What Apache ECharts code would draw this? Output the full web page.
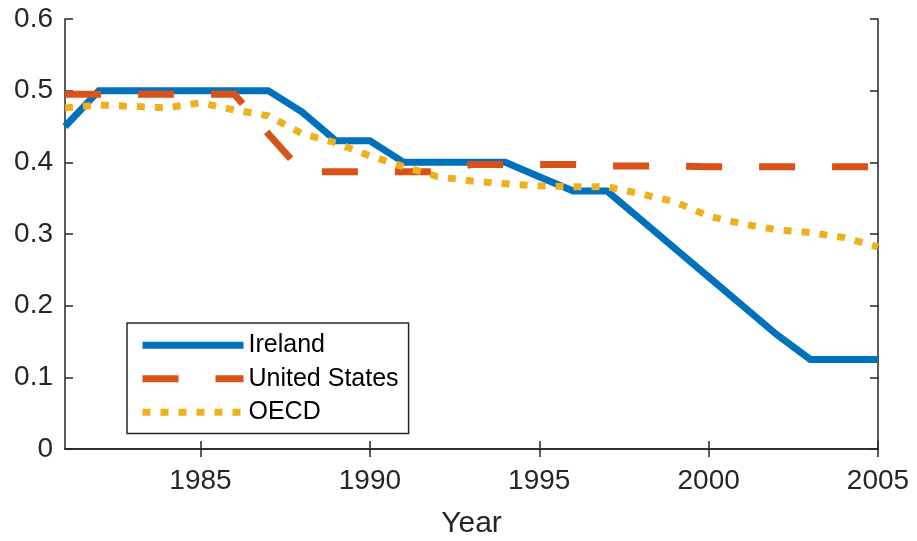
<!DOCTYPE html>
<html>
<head>
<meta charset="utf-8">
<script src="https://cdn.jsdelivr.net/npm/echarts@6/dist/echarts.min.js"></script>
<style>html,body{margin:0;padding:0;background:#fff;}#c{width:917px;height:541px;}</style>
</head>
<body>
<div id="c"></div>
<script>
var years = [1981,1982,1983,1984,1985,1986,1987,1988,1989,1990,1991,1992,1993,1994,1995,1996,1997,1998,1999,2000,2001,2002,2003,2004,2005];
var ireland = [0.45,0.50,0.50,0.50,0.50,0.50,0.50,0.47,0.43,0.43,0.40,0.40,0.40,0.40,0.38,0.36,0.36,0.32,0.28,0.24,0.20,0.16,0.125,0.125,0.125];
var unitedStates = [0.495,0.495,0.495,0.495,0.495,0.495,0.44,0.387,0.387,0.387,0.387,0.387,0.397,0.397,0.397,0.397,0.395,0.395,0.395,0.394,0.394,0.394,0.394,0.394,0.394];
var oecd = [0.476,0.480,0.478,0.476,0.483,0.473,0.465,0.440,0.427,0.409,0.394,0.380,0.374,0.370,0.367,0.366,0.366,0.356,0.345,0.325,0.314,0.306,0.302,0.295,0.282];
var xTicks = [1985,1990,1995,2000,2005];
var seriesNames = ['Ireland','United States','OECD'];

function pairs(vals){ return years.map(function(y,i){ return [y, vals[i]]; }); }

var axisColor = '#262626';
var font = 'Liberation Sans, Arial, Helvetica, sans-serif';
var chart = echarts.init(document.getElementById('c'));
chart.setOption({
  animation: false,
  backgroundColor: '#fff',
  grid: {left: 65, right: 39, top: 19, bottom: 92, containLabel: false, outerBoundsMode: 'none'},
  legend: {
    orient: 'vertical', left: 127, top: 323,
    itemWidth: 101, itemHeight: 14, itemGap: 3,
    padding: [7, 10, 6, 12],
    borderColor: axisColor, borderWidth: 1.5, backgroundColor: '#fff',
    itemStyle: {opacity: 0},
    lineStyle: {width: 7, cap: 'butt'},
    textStyle: {fontFamily: font, fontSize: 25, color: '#000', lineHeight: 30.5},
    data: seriesNames
  },
  xAxis: [{
    type: 'value', min: 1981, max: 2005, position: 'bottom',
    name: 'Year', nameLocation: 'middle', nameGap: 60,
    nameTextStyle: {fontFamily: font, fontSize: 30, color: axisColor},
    axisLine: {show: true, lineStyle: {color: axisColor, width: 1.5}},
    axisTick: {show: true, inside: true, length: 8, customValues: xTicks, lineStyle: {color: axisColor, width: 1.5}},
    axisLabel: {show: true, customValues: xTicks, margin: 18, fontFamily: font, fontSize: 28, color: axisColor,
      formatter: function(v){ return String(v); }},
    splitLine: {show: false}
  }, {
    type: 'value', min: 1981, max: 2005, position: 'top',
    axisLine: {show: true, lineStyle: {color: axisColor, width: 1.5}},
    axisTick: {show: true, inside: true, length: 8, customValues: xTicks, lineStyle: {color: axisColor, width: 1.5}},
    axisLabel: {show: false},
    splitLine: {show: false}
  }],
  yAxis: [{
    type: 'value', min: 0, max: 0.6, interval: 0.1, position: 'left',
    axisLine: {show: true, lineStyle: {color: axisColor, width: 1.5}},
    axisTick: {show: true, inside: true, length: 8, lineStyle: {color: axisColor, width: 1.5}},
    axisLabel: {show: true, margin: 12, fontFamily: font, fontSize: 28, color: axisColor,
      formatter: function(v){ return String(Math.round(v*10)/10); }},
    splitLine: {show: false}
  }, {
    type: 'value', min: 0, max: 0.6, interval: 0.1, position: 'right',
    axisLine: {show: true, lineStyle: {color: axisColor, width: 1.5}},
    axisTick: {show: true, inside: true, length: 8, lineStyle: {color: axisColor, width: 1.5}},
    axisLabel: {show: false},
    splitLine: {show: false}
  }],
  series: [{
    name: seriesNames[0], type: 'line', data: pairs(ireland), symbol: 'none',
    color: '#0072BD',
    lineStyle: {color: '#0072BD', width: 7, type: 'solid', cap: 'butt', join: 'miter'},
    z: 3
  }, {
    name: seriesNames[1], type: 'line', data: pairs(unitedStates), symbol: 'none',
    color: '#D95319',
    lineStyle: {color: '#D95319', width: 7, type: [36, 37], cap: 'butt', join: 'miter'},
    z: 4
  }, {
    name: seriesNames[2], type: 'line', data: pairs(oecd), symbol: 'none',
    color: '#EDB120',
    lineStyle: {color: '#EDB120', width: 7, type: [8, 10], cap: 'butt', join: 'miter'},
    z: 5
  }]
});
</script>
</body>
</html>
